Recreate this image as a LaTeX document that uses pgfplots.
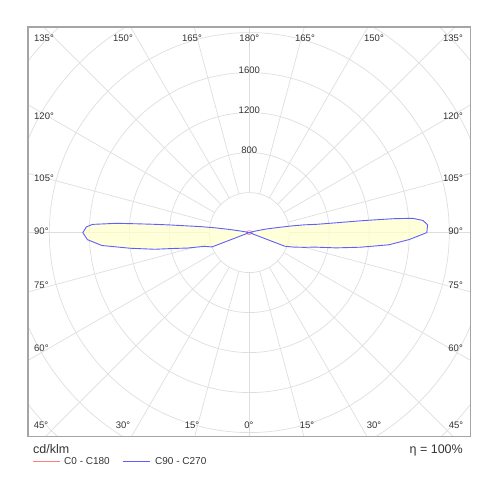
\documentclass[border=0pt]{standalone}
\usepackage{fontspec}
\setmainfont{Liberation Sans}
\usepackage{pgfplots}
\usepackage{pgfplotstable}
\pgfplotsset{compat=1.18}

\definecolor{gridcol}{RGB}{222,222,222}
\definecolor{framecol}{RGB}{165,165,165}
\definecolor{lobefill}{RGB}{255,255,205}
\definecolor{cblue}{RGB}{95,95,255}
\definecolor{cred}{RGB}{255,125,125}
\definecolor{txt}{RGB}{51,51,51}
\tikzset{lbl/.style={font=\fontsize{9.5}{11}\selectfont, text=txt, inner sep=0pt}}

% intensity (cd/klm) against gamma (deg)
\pgfplotstableread{
gamma I
0 0
60 0
65 0
69 380
72 470
75 570
77.5 670
80 880
82.5 1120
85 1400
87.5 1600
90 1775
92.5 1785
94 1740
95 1640
95.5 1450
96 1150
96.5 850
97 680
98 560
99 420
100 300
102 170
104 70
106 20
110 0
180 0
}\cninety

\pgfplotstableread{
gamma I
0 0
60 0
65 0
69 400
73 470
76 640
78 760
80 960
82.5 1200
85 1480
87.5 1620
90 1665
92 1630
93 1570
94 1330
94.5 1120
95 950
95.5 800
96 660
97 490
98 340
99 200
100 100
102 30
105 0
180 0
}\ctwoseventy

\pgfplotstableread{
gamma I
0 20
45 22
90 30
135 22
180 20
}\czero

\begin{document}
\begin{tikzpicture}
\begin{axis}[
    x=0.1pt, y=0.1pt,
    xmin=-2213, xmax=2214,
    ymin=-2041, ymax=2056,
    xtick=\empty, ytick=\empty,
    clip=false,
    axis on top,
    axis line style={draw=framecol, line width=1.3pt},
  ]
  % grid
  \begin{scope}
    \clip (axis cs:-2213,-2041) rectangle (axis cs:2214,2056);
    \pgfplotsinvokeforeach{40,80,120,160,200,240,280}{
      \draw[draw=gridcol, line width=0.7pt] (axis cs:0,0) circle[radius=#1pt];
    }
    \pgfplotsinvokeforeach{0,15,...,345}{
      \draw[draw=gridcol, line width=0.7pt] (axis cs:0,0) ++(#1:40pt) -- ++(#1:300pt);
    }
  \end{scope}

  % lobes fill, light enough to let the grid show through
  \addplot[fill=lobefill, fill opacity=0.75, draw=none, data cs=polar, forget plot]
    table[x expr=\thisrow{gamma}-90, y=I] {\cninety};
  \addplot[fill=lobefill, fill opacity=0.75, draw=none, data cs=polar, forget plot]
    table[x expr=270-\thisrow{gamma}, y=I] {\ctwoseventy};

  % curves
  \addplot[draw=cred, line width=0.6pt, data cs=polar]
    table[x expr=\thisrow{gamma}-90, y=I] {\czero};
  \addplot[draw=cred, line width=0.6pt, data cs=polar]
    table[x expr=270-\thisrow{gamma}, y=I] {\czero};
  \addplot[draw=cblue, line width=0.9pt, data cs=polar]
    table[x expr=\thisrow{gamma}-90, y=I] {\cninety};
  \addplot[draw=cblue, line width=0.9pt, data cs=polar]
    table[x expr=270-\thisrow{gamma}, y=I] {\ctwoseventy};

  % legend keys below the frame, as thin filled bars
  \fill[cred] (axis cs:-2163,-2289) rectangle (axis cs:-1893,-2279);
  \fill[cblue] (axis cs:-1263,-2289) rectangle (axis cs:-993,-2279);

  % angle labels
  \node[lbl] at (axis cs:-2053,1946) {135°};
  \node[lbl] at (axis cs:-1263,1946) {150°};
  \node[lbl] at (axis cs:-573,1946) {165°};
  \node[lbl] at (axis cs:0,1946) {180°};
  \node[lbl] at (axis cs:557,1946) {165°};
  \node[lbl] at (axis cs:1247,1946) {150°};
  \node[lbl] at (axis cs:2037,1946) {135°};

  \node[lbl, anchor=west] at (axis cs:-2153,1166) {120°};
  \node[lbl, anchor=west] at (axis cs:-2153,541) {105°};
  \node[lbl, anchor=west] at (axis cs:-2153,11) {90°};
  \node[lbl, anchor=west] at (axis cs:-2153,-524) {75°};
  \node[lbl, anchor=west] at (axis cs:-2153,-1154) {60°};
  \node[lbl, anchor=east] at (axis cs:2137,1166) {120°};
  \node[lbl, anchor=east] at (axis cs:2137,541) {105°};
  \node[lbl, anchor=east] at (axis cs:2137,11) {90°};
  \node[lbl, anchor=east] at (axis cs:2137,-524) {75°};
  \node[lbl, anchor=east] at (axis cs:2137,-1154) {60°};

  \node[lbl] at (axis cs:-2083,-1924) {45°};
  \node[lbl] at (axis cs:-1263,-1924) {30°};
  \node[lbl] at (axis cs:-573,-1924) {15°};
  \node[lbl] at (axis cs:-3,-1924) {0°};
  \node[lbl] at (axis cs:577,-1924) {15°};
  \node[lbl] at (axis cs:1247,-1924) {30°};
  \node[lbl] at (axis cs:2067,-1924) {45°};

  % radius labels
  \node[lbl] at (axis cs:0,1626) {1600};
  \node[lbl] at (axis cs:0,1226) {1200};
  \node[lbl] at (axis cs:0,819) {800};

  % texts below the frame
  \node[anchor=base west, inner sep=0pt, text=txt, font=\fontsize{12.5}{14}\selectfont]
    at (axis cs:-2163,-2209) {cd/klm};
  \node[anchor=base east, inner sep=0pt, text=txt, font=\fontsize{12.5}{14}\selectfont]
    at (axis cs:2137,-2209) {η = 100\%};
  \node[lbl, anchor=west, font=\fontsize{10}{12}\selectfont] at (axis cs:-1853,-2284) {C0 - C180};
  \node[lbl, anchor=west, font=\fontsize{10}{12}\selectfont] at (axis cs:-943,-2284) {C90 - C270};

  % page extent
  \path (axis cs:-2493,2326) rectangle (axis cs:2507,-2674);
\end{axis}
\end{tikzpicture}
\end{document}
